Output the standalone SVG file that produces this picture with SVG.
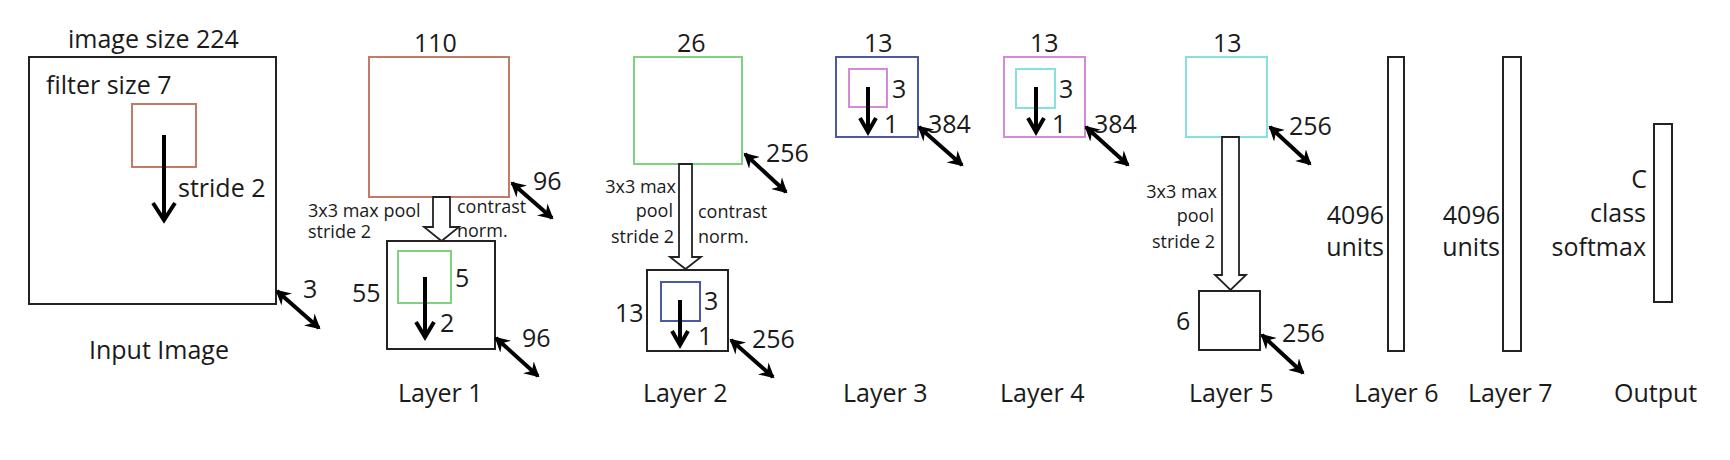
<svg xmlns="http://www.w3.org/2000/svg" width="1730" height="460" viewBox="0 0 1730 460">
<style>
text{font-family:"Open Sans","Liberation Sans",sans-serif;fill:#1a1a1a;font-size:25px}
.s{font-size:18px}
.e{text-anchor:end}
.box{fill:none;stroke:#222;stroke-width:2}
.red{fill:none;stroke:#c47a68;stroke-width:2}
.grn{fill:none;stroke:#7fd27f;stroke-width:2}
.blu{fill:none;stroke:#4b58a6;stroke-width:2}
.mag{fill:none;stroke:#d48ad8;stroke-width:2}
.cyn{fill:none;stroke:#86e0e0;stroke-width:2}
.shaft{stroke:#000;stroke-width:4;fill:none}
.head{stroke:#000;stroke-width:4;fill:none;stroke-linejoin:miter}
.dbl{stroke:#000;stroke-width:4;fill:none;marker-start:url(#ah);marker-end:url(#ah)}
.hollow{fill:#fff;stroke:#222;stroke-width:1.8;stroke-linejoin:miter}
</style>
<defs>
<marker id="ah" viewBox="0 0 16 16" refX="13" refY="8" markerWidth="16" markerHeight="16" markerUnits="userSpaceOnUse" orient="auto-start-reverse">
<path d="M0,0 L15,8 L0,16 L5,8 Z" fill="#000"/>
</marker>
</defs>

<g id="input">
<rect class="box" x="29" y="57" width="247" height="247"/>
<rect class="red" x="132" y="104" width="64" height="63"/>
<line class="shaft" x1="164" y1="135" x2="164" y2="218"/>
<polyline class="head" points="153,203 164,220 175,203"/>
<text x="68" y="48">image size 224</text>
<text x="46" y="94">filter size 7</text>
<text x="178" y="197">stride 2</text>
<text x="303" y="298">3</text>
<text x="89" y="359">Input Image</text>
</g>

<g id="layer1">
<rect class="red" x="369" y="57" width="140" height="140"/>
<rect class="box" x="387" y="241" width="108" height="108"/>
<rect class="grn" x="398" y="251" width="53" height="52"/>
<line class="shaft" x1="425" y1="277" x2="425" y2="336"/>
<polyline class="head" points="416,322 425,337 434,322"/>
<text x="414" y="52">110</text>
<text x="533" y="190">96</text>
<text class="s" x="308" y="217">3x3 max pool</text>
<text class="s" x="308" y="238">stride 2</text>
<text class="s" x="457" y="213">contrast</text>
<text class="s" x="457" y="237">norm.</text>
<text x="455" y="287">5</text>
<text x="352" y="302">55</text>
<text x="440" y="332">2</text>
<text x="522" y="347">96</text>
<text x="398" y="402">Layer 1</text>
</g>

<g id="layer2">
<rect class="grn" x="634" y="57" width="108" height="107"/>
<rect class="box" x="647" y="270" width="81" height="81"/>
<rect class="blu" x="661" y="282" width="39" height="39"/>
<line class="shaft" x1="680" y1="300" x2="680" y2="344"/>
<polyline class="head" points="672,331 680,345 688,331"/>
<text x="677" y="52">26</text>
<text x="766" y="162">256</text>
<text class="s e" x="676" y="193">3x3 max</text>
<text class="s e" x="673" y="217">pool</text>
<text class="s e" x="674" y="243">stride 2</text>
<text class="s" x="698" y="218">contrast</text>
<text class="s" x="698" y="243">norm.</text>
<text x="704" y="310">3</text>
<text x="615" y="322">13</text>
<text x="698" y="345">1</text>
<text x="752" y="348">256</text>
<text x="643" y="402">Layer 2</text>
</g>

<g id="layer3">
<rect class="blu" x="836" y="57" width="82" height="80"/>
<rect class="mag" x="849" y="69" width="38" height="38"/>
<line class="shaft" x1="868" y1="87" x2="868" y2="131"/>
<polyline class="head" points="860,118 868,132 876,118"/>
<text x="864" y="52">13</text>
<text x="892" y="98">3</text>
<text x="884" y="133">1</text>
<text x="928" y="133">384</text>
<text x="843" y="402">Layer 3</text>
</g>

<g id="layer4">
<rect class="mag" x="1004" y="57" width="81" height="80"/>
<rect class="cyn" x="1016" y="69" width="39" height="39"/>
<line class="shaft" x1="1036" y1="87" x2="1036" y2="131"/>
<polyline class="head" points="1028,118 1036,132 1044,118"/>
<text x="1030" y="52">13</text>
<text x="1059" y="98">3</text>
<text x="1052" y="133">1</text>
<text x="1094" y="133">384</text>
<text x="1000" y="402">Layer 4</text>
</g>

<g id="layer5">
<rect class="cyn" x="1186" y="57" width="81" height="80"/>
<rect class="box" x="1199" y="291" width="61" height="59"/>
<text x="1213" y="52">13</text>
<text x="1289" y="135">256</text>
<text class="s e" x="1217" y="198">3x3 max</text>
<text class="s e" x="1214" y="222">pool</text>
<text class="s e" x="1215" y="248">stride 2</text>
<text x="1176" y="330">6</text>
<text x="1282" y="342">256</text>
<text x="1189" y="402">Layer 5</text>
</g>

<g id="layer6">
<rect class="box" x="1388" y="57" width="16" height="294"/>
<text class="e" x="1384" y="224">4096</text>
<text class="e" x="1384" y="256">units</text>
<text x="1354" y="402">Layer 6</text>
</g>

<g id="layer7">
<rect class="box" x="1503" y="57" width="18" height="294"/>
<text class="e" x="1500" y="224">4096</text>
<text class="e" x="1500" y="256">units</text>
<text x="1468" y="402">Layer 7</text>
</g>

<g id="output">
<rect class="box" x="1654" y="124" width="18" height="178"/>
<text class="e" x="1647" y="188">C</text>
<text class="e" x="1646" y="222">class</text>
<text class="e" x="1646" y="256">softmax</text>
<text x="1614" y="402">Output</text>
</g>

<g id="connectors">
<path class="hollow" d="M433,197 L450,197 L450,227 L459,227 L441.5,241 L424,227 L433,227 Z"/>
<path class="hollow" d="M679,164 L692,164 L692,257 L701,257 L685.5,269 L670,257 L679,257 Z"/>
<path class="hollow" d="M1222,137 L1239,137 L1239,275 L1246,275 L1230.5,290 L1215,275 L1222,275 Z"/>
<line class="dbl" x1="277" y1="291" x2="319" y2="328"/>
<line class="dbl" x1="512" y1="183" x2="552" y2="218"/>
<line class="dbl" x1="496" y1="338" x2="538" y2="376"/>
<line class="dbl" x1="745" y1="154" x2="786" y2="192"/>
<line class="dbl" x1="731" y1="340" x2="773" y2="377"/>
<line class="dbl" x1="919" y1="127" x2="962" y2="165"/>
<line class="dbl" x1="1086" y1="127" x2="1128" y2="165"/>
<line class="dbl" x1="1270" y1="127" x2="1310" y2="164"/>
<line class="dbl" x1="1262" y1="335" x2="1303" y2="373"/>
</g>
</svg>
